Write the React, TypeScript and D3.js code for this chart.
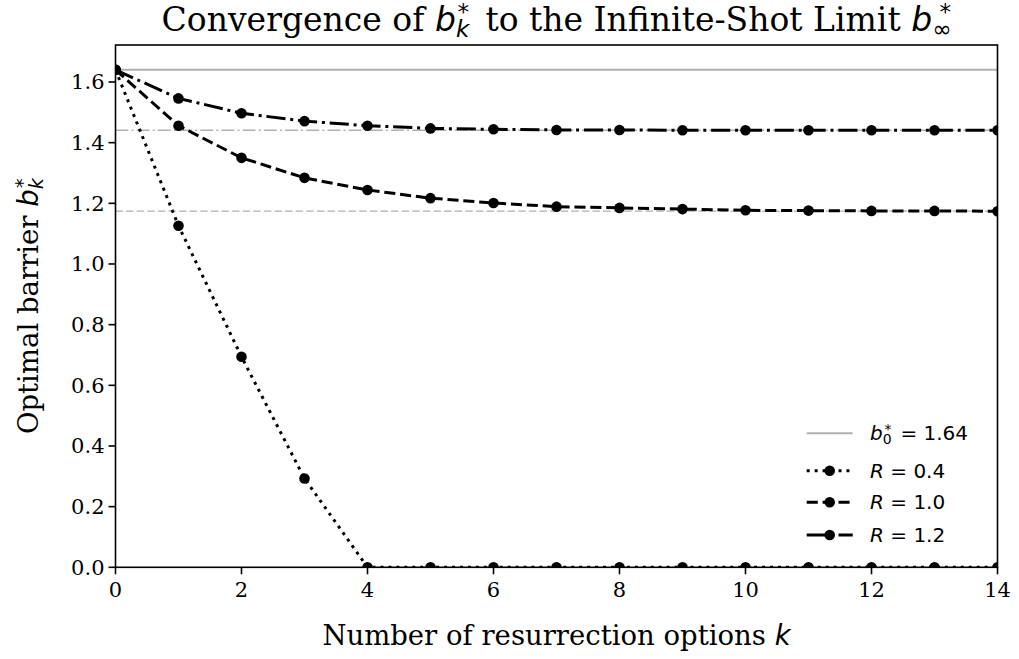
import React from 'react';
import * as d3 from 'd3';

// number of resurrection options k
const kValues = [0, 1, 2, 3, 4, 5, 6, 7, 8, 9, 10, 11, 12, 13, 14];
// optimal barrier b_k^* for each R
const seriesR04 = [1.64, 1.126, 0.694, 0.293, 0, 0, 0, 0, 0, 0, 0, 0, 0, 0, 0];
const seriesR10 = [1.64, 1.456, 1.35, 1.284, 1.244, 1.217, 1.201, 1.189, 1.185, 1.181, 1.177, 1.176, 1.175, 1.175, 1.174];
const seriesR12 = [1.64, 1.546, 1.497, 1.471, 1.456, 1.447, 1.444, 1.442, 1.442, 1.441, 1.441, 1.441, 1.441, 1.441, 1.441];
const seriesLabels = ['0.4', '1.0', '1.2'];
const seriesDash = ['3,4.95', '11.1,4.8', '19.2,4.8,3,4.8'];
// infinite-shot limits b_inf^* (R = 1.0, R = 1.2) and b_0^*
const limitValues = [1.174, 1.441];
const limitDash = ['7.4,3.2', '12.8,3.2,2,3.2'];
const b0 = 1.64;

const xTicks = [0, 2, 4, 6, 8, 10, 12, 14];
const yTicks = [0, 0.2, 0.4, 0.6, 0.8, 1.0, 1.2, 1.4, 1.6];

const W = 1019;
const H = 659;
const left = 115.5;
const right = 997.5;
const top = 45;
const bottom = 567.3;

const serif = '"DejaVu Serif", serif';
const sans = '"DejaVu Sans", sans-serif';

const x = d3.scaleLinear().domain([0, 14]).range([left, right]);
const y = d3.scaleLinear().domain([0, 1.722]).range([bottom, top]);

const line = d3
  .line<number>()
  .x((_, i) => x(kValues[i]))
  .y(d => y(d));

// b_sub^* in math style, followed by optional text back on the baseline
const MathB = ({
  sub,
  size,
  subItalic = true,
  after,
  afterFont,
  afterDx = 0,
}: {
  sub: string;
  size: number;
  subItalic?: boolean;
  after?: string;
  afterFont?: string;
  afterDx?: number;
}) => (
  <>
    <tspan fontFamily={sans} fontStyle="italic">b</tspan>
    <tspan fontFamily={sans} fontSize={size * 0.7} fontStyle={subItalic ? 'italic' : 'normal'} dy={size * 0.18}>
      {sub}
    </tspan>
    <tspan fontFamily={sans} fontSize={size * 0.7} dx={-size * 0.36} dy={-size * 0.52}>
      *
    </tspan>
    {after && (
      <tspan fontFamily={afterFont} dx={afterDx} dy={size * 0.34}>
        {after}
      </tspan>
    )}
  </>
);

const App = () => {
  const allSeries = [seriesR04, seriesR10, seriesR12];
  const legendY = [433.3, 470.7, 502.3, 535];

  return (
    <svg width={W} height={H} style={{ position: 'absolute', left: 0, top: 0, background: '#fff' }}>
      <defs>
        <clipPath id="plot-clip">
          <rect x={left} y={top} width={right - left} height={bottom - top} />
        </clipPath>
      </defs>

      {/* reference lines */}
      <g clipPath="url(#plot-clip)">
        <line x1={left} x2={right} y1={y(b0)} y2={y(b0)} stroke="#b0b0b0" strokeWidth={2} />
        {limitValues.map((v, i) => (
          <line
            key={i}
            x1={left}
            x2={right}
            y1={y(v)}
            y2={y(v)}
            stroke="#b0b0b0"
            strokeWidth={1.3}
            strokeDasharray={limitDash[i]}
          />
        ))}

        {/* series */}
        {allSeries.map((s, si) => (
          <g key={si}>
            <path d={line(s) || ''} fill="none" stroke="#000" strokeWidth={3} strokeDasharray={seriesDash[si]} />
            {s.map((v, i) => (
              <circle key={i} cx={x(kValues[i])} cy={y(v)} r={5.3} fill="#000" />
            ))}
          </g>
        ))}
      </g>

      {/* axes frame */}
      <rect x={left} y={top} width={right - left} height={bottom - top} fill="none" stroke="#000" strokeWidth={1.6} />

      {/* x ticks */}
      {xTicks.map(t => (
        <g key={t} transform={`translate(${x(t)},${bottom})`}>
          <line y1={0} y2={7} stroke="#000" strokeWidth={1.6} />
          <text y={30} textAnchor="middle" fontFamily={serif} fontSize={21} fill="#000">
            {t}
          </text>
        </g>
      ))}

      {/* y ticks */}
      {yTicks.map(t => (
        <g key={t} transform={`translate(${left},${y(t)})`}>
          <line x1={0} x2={-7} stroke="#000" strokeWidth={1.6} />
          <text x={-11} dy="0.35em" textAnchor="end" fontFamily={serif} fontSize={21} fill="#000">
            {t.toFixed(1)}
          </text>
        </g>
      ))}

      {/* title */}
      <text x={(left + right) / 2} y={31} textAnchor="middle" fontFamily={serif} fontSize={33} fill="#000">
        {'Convergence of '}
        <MathB sub="k" size={33} after=" to the Infinite-Shot Limit " afterFont={serif} afterDx={6} />
        <MathB sub={'\u221e'} size={33} subItalic={false} />
      </text>

      {/* x label */}
      <text x={(left + right) / 2} y={645} textAnchor="middle" fontFamily={serif} fontSize={27.5} fill="#000">
        Number of resurrection options <tspan fontFamily={sans} fontStyle="italic">k</tspan>
      </text>

      {/* y label */}
      <text
        transform={`translate(38,${(top + bottom) / 2}) rotate(-90)`}
        textAnchor="middle"
        fontFamily={serif}
        fontSize={27.5}
        fill="#000"
      >
        {'Optimal barrier '}
        <MathB sub="k" size={27.5} />
      </text>

      {/* legend */}
      <g>
        <line x1={806.7} x2={852.7} y1={legendY[0]} y2={legendY[0]} stroke="#b0b0b0" strokeWidth={2} />
        <text x={870} y={legendY[0]} dy="0.35em" fontFamily={sans} fontSize={20} fill="#000">
          <MathB sub="0" size={20} subItalic={false} after="= 1.64" afterFont={sans} afterDx={9} />
        </text>
        {seriesLabels.map((lab, i) => (
          <g key={lab}>
            <line
              x1={806.7}
              x2={852.7}
              y1={legendY[i + 1]}
              y2={legendY[i + 1]}
              stroke="#000"
              strokeWidth={3}
              strokeDasharray={seriesDash[i]}
            />
            <circle cx={829.7} cy={legendY[i + 1]} r={5.3} fill="#000" />
            <text x={870} y={legendY[i + 1]} dy="0.35em" fontFamily={sans} fontSize={20} fill="#000">
              <tspan fontStyle="italic">R</tspan>
              {` = ${lab}`}
            </text>
          </g>
        ))}
      </g>
    </svg>
  );
};

export default App;
